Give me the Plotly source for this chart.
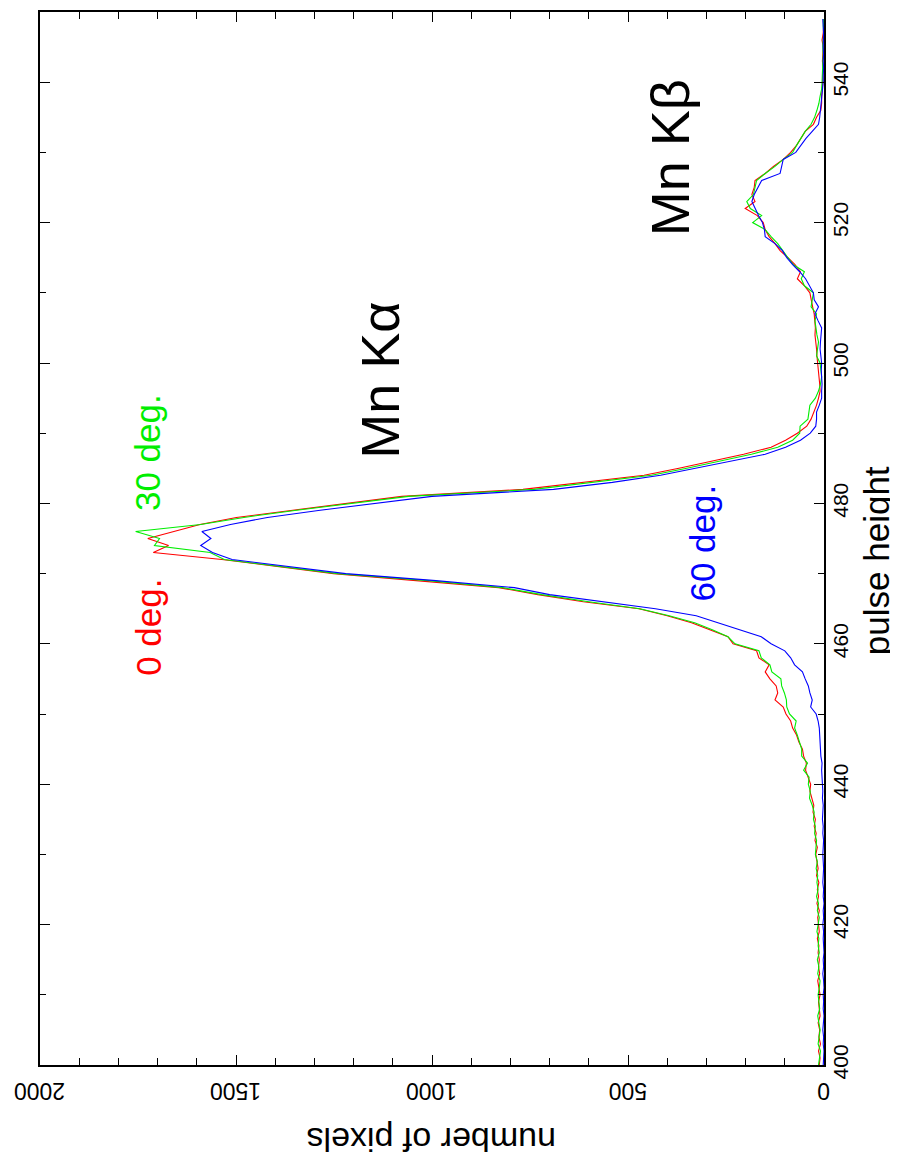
import plotly.graph_objects as go

pulse_height = list(range(400, 550))

counts_0deg = [
    12, 10, 14, 9, 13, 11, 15, 10, 12, 14,
    10, 13, 16, 11, 14, 12, 15, 13, 17, 12,
    14, 16, 12, 18, 14, 17, 13, 19, 15, 18,
    21, 17, 23, 20, 25, 22, 28, 26, 32, 36,
    34, 40, 47, 45, 52, 55, 64, 70, 80, 85,
    97, 104, 125, 118, 122, 138, 150, 140, 166, 172,
    232, 245, 290, 338, 400, 472, 614, 730, 830, 1030,
    1251, 1390, 1536, 1711, 1672, 1725, 1655, 1592, 1499, 1360,
    1220, 1077, 768, 610, 459, 370, 290, 205, 135, 98,
    68, 44, 33, 25, 19, 14, 10, 11, 13, 14,
    16, 18, 19, 21, 23, 22, 23, 25, 29, 33,
    36, 50, 68, 60, 74, 92, 112, 125, 140, 150,
    155, 170, 201, 176, 184, 178, 176, 150, 129, 104,
    85, 70, 58, 48, 27, 19, 8, 6, 6, 4,
    3, 3, 2, 4, 3, 2, 5, 2, 1, 2,
]

counts_30deg = [
    14, 11, 9, 15, 12, 10, 13, 16, 11, 13,
    15, 12, 10, 16, 13, 17, 12, 15, 13, 18,
    15, 12, 17, 14, 19, 15, 18, 16, 20, 17,
    22, 20, 19, 24, 22, 27, 25, 30, 37, 35,
    40, 38, 52, 42, 57, 57, 62, 68, 75, 71,
    88, 95, 96, 101, 108, 110, 133, 138, 160, 166,
    227, 245, 285, 330, 395, 470, 600, 720, 820, 1010,
    1240, 1380, 1530, 1566, 1708, 1695, 1756, 1590, 1480, 1350,
    1205, 1060, 740, 590, 440, 350, 270, 185, 118, 80,
    62, 61, 41, 38, 36, 22, 14, 9, 6, 8,
    10, 19, 16, 14, 18, 21, 23, 19, 33, 30,
    27, 50, 58, 50, 78, 92, 104, 118, 135, 150,
    182, 159, 188, 197, 180, 176, 172, 150, 125, 104,
    80, 70, 58, 48, 33, 24, 18, 13, 10, 6,
    5, 4, 3, 3, 2, 3, 2, 1, 2, 1,
]

counts_60deg = [
    2, 1, 0, 2, 1, 3, 1, 0, 2, 1,
    2, 0, 1, 3, 1, 2, 0, 1, 2, 1,
    3, 1, 2, 0, 2, 1, 3, 2, 1, 2,
    3, 2, 1, 3, 2, 4, 3, 2, 4, 3,
    4, 5, 6, 5, 8, 9, 10, 10, 12, 15,
    20, 34, 30, 36, 40, 48, 55, 75, 85, 100,
    135, 160, 215, 271, 326, 430, 560, 700, 790, 990,
    1220, 1370, 1510, 1560, 1590, 1564, 1587, 1514, 1420, 1290,
    1150, 1000, 690, 540, 417, 330, 240, 150, 98, 60,
    35, 21, 19, 19, 12, 6, 6, 5, 6, 7,
    6, 8, 10, 9, 8, 6, 15, 23, 14, 25,
    27, 38, 47, 62, 80, 95, 106, 125, 150, 152,
    157, 167, 176, 184, 178, 168, 159, 112, 108, 104,
    72, 60, 46, 30, 14, 11, 9, 7, 5, 3,
    2, 2, 1, 2, 1, 2, 1, 1, 2, 3,
]

series_names = ["0 deg.", "30 deg.", "60 deg."]
series_colors = ["#ff0000", "#00ee00", "#0000ff"]
series_values = [counts_0deg, counts_30deg, counts_60deg]

count_tick_values = [2000, 1500, 1000, 500, 0]
count_tick_labels = ["2000", "1500", "1000", "500", "0"]

FONT = "Liberation Sans, Arial, Helvetica, sans-serif"

fig = go.Figure()
for name, color, vals in zip(series_names, series_colors, series_values):
    fig.add_trace(go.Scatter(
        x=vals, y=pulse_height, mode="lines", name=name,
        line=dict(color=color, width=1.1), showlegend=False,
    ))

# labels placed in data space
label_text = ["0 deg.", "30 deg.", "60 deg.", "Mn K\u03b1", "Mn K\u03b2"]
label_count = [1724, 1724, 309, 1133, 393]
label_height = [462.3, 487.2, 474.4, 497.6, 529.3]
label_color = ["#ff0000", "#00ee00", "#0000ff", "black", "black"]
label_size = [35, 35, 35, 54, 54]

annotations = []
for t, cx, hy, col, sz in zip(label_text, label_count, label_height, label_color, label_size):
    annotations.append(dict(
        x=cx, y=hy, xref="x", yref="y", text=t, showarrow=False,
        textangle=-90, font=dict(family=FONT, size=sz, color=col),
        xanchor="center", yanchor="middle",
    ))

# upside-down count tick labels, centred on their ticks
for v, t in zip(count_tick_values, count_tick_labels):
    annotations.append(dict(
        x=v, y=0, xref="x", yref="paper", yshift=-26, text=t, showarrow=False,
        textangle=180, font=dict(family=FONT, size=23, color="black"),
        xanchor="center", yanchor="middle",
    ))

# axis titles
annotations.append(dict(
    x=0.5, y=-0.071, xref="paper", yref="paper", text="number of pixels",
    showarrow=False, textangle=180, font=dict(family=FONT, size=34, color="black"),
    xanchor="center", yanchor="middle",
))
annotations.append(dict(
    x=1.0665, y=0.4786, xref="paper", yref="paper", text="pulse height",
    showarrow=False, textangle=-90, font=dict(family=FONT, size=35, color="black"),
    xanchor="center", yanchor="middle",
))

# the page body adds an 8px margin, so the figure is drawn 8px smaller
fig.update_layout(
    width=890, height=1150,
    margin=dict(l=32, r=74, t=4, b=93),
    paper_bgcolor="white", plot_bgcolor="white",
    font=dict(family=FONT, color="black"),
    annotations=annotations,
    xaxis=dict(
        range=[2000, 0], tickmode="array", tickvals=count_tick_values,
        ticktext=count_tick_labels, showticklabels=False,
        ticks="inside", ticklen=10, tickwidth=1, tickcolor="black",
        showline=True, linecolor="black", linewidth=1.5, mirror="ticks",
        showgrid=False, zeroline=False, automargin=False,
        minor=dict(dtick=100, tick0=0, ticks="inside", ticklen=7,
                   tickcolor="black", tickwidth=1, showgrid=False),
    ),
    yaxis=dict(
        range=[400, 550], side="right", tickmode="linear", tick0=400, dtick=20,
        ticks="inside", ticklen=10, tickwidth=1, tickcolor="black",
        showline=True, linecolor="black", linewidth=1.5, mirror="ticks",
        showgrid=False, zeroline=False, tickangle=-90, automargin=False,
        ticklabelstandoff=-3,
        tickfont=dict(family=FONT, size=21, color="black"),
        minor=dict(dtick=10, tick0=400, ticks="inside", ticklen=6,
                   tickcolor="black", tickwidth=1, showgrid=False),
    ),
)

fig.write_html("out.html")
